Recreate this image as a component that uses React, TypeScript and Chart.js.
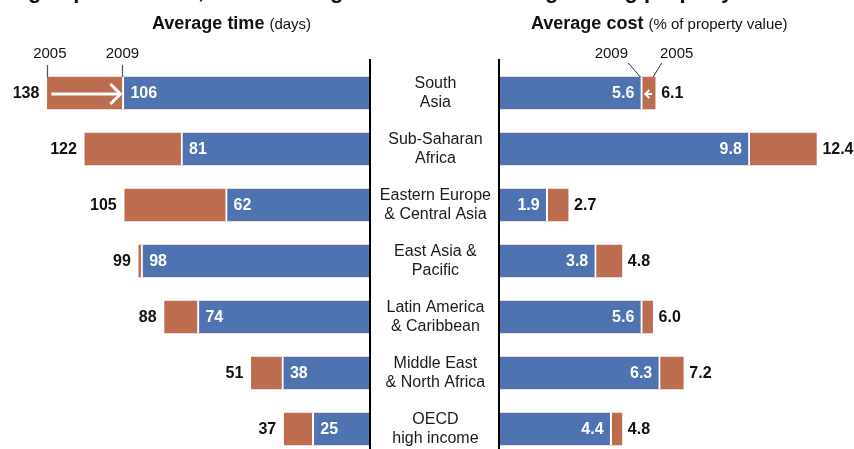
import React, { useEffect, useRef } from "react";
import { Chart, registerables } from "chart.js";

Chart.register(...registerables);

// ---- data ----
const regions: string[][] = [
  ["South", "Asia"],
  ["Sub-Saharan", "Africa"],
  ["Eastern Europe", "& Central Asia"],
  ["East Asia &", "Pacific"],
  ["Latin America", "& Caribbean"],
  ["Middle East", "& North Africa"],
  ["OECD", "high income"],
];
const years = ["2005", "2009"];
const time2005 = [138, 122, 105, 99, 88, 51, 37];
const time2009 = [106, 81, 62, 98, 74, 38, 25];
const cost2005 = [6.1, 12.4, 2.7, 4.8, 6.0, 7.2, 4.8];
const cost2009 = [5.6, 9.8, 1.9, 3.8, 5.6, 6.3, 4.4];
const titleText = "Big improvements, but reducing time and cost of registering property remains uneven";
const timeTitle = ["Average time", "(days)"];
const costTitle = ["Average cost", "(% of property value)"];

// ---- style ----
const FONT = '"Liberation Sans", Arial, sans-serif';
const BLUE = "#4F73B1";
const ORANGE = "#BC6D4F";
const INK = "#111111";

function drawArrow(ctx: CanvasRenderingContext2D, x1: number, y: number, x2: number, head: number, lw: number) {
  const dir = Math.sign(x2 - x1);
  ctx.save();
  ctx.strokeStyle = "#ffffff";
  ctx.lineWidth = lw;
  ctx.lineCap = "butt";
  ctx.lineJoin = "miter";
  ctx.beginPath();
  ctx.moveTo(x1, y);
  ctx.lineTo(x2 - dir * 1, y);
  ctx.stroke();
  ctx.beginPath();
  ctx.moveTo(x2 - dir * head, y - head);
  ctx.lineTo(x2, y);
  ctx.lineTo(x2 - dir * head, y + head);
  ctx.stroke();
  ctx.restore();
}

function drawTitleGroup(ctx: CanvasRenderingContext2D, x: number, y: number, parts: string[]) {
  ctx.save();
  ctx.fillStyle = INK;
  ctx.textBaseline = "alphabetic";
  ctx.textAlign = "left";
  ctx.font = `bold 18px ${FONT}`;
  ctx.fillText(parts[0], x, y);
  const w = ctx.measureText(parts[0] + " ").width;
  ctx.font = `15px ${FONT}`;
  ctx.fillText(parts[1], x + w, y);
  ctx.restore();
}

const leftDecor = {
  id: "leftDecor",
  afterDatasetsDraw(chart: any) {
    const ctx: CanvasRenderingContext2D = chart.ctx;
    const blue = chart.getDatasetMeta(0).data;
    const orange = chart.getDatasetMeta(1).data;
    const area = chart.chartArea;
    ctx.save();
    // axis line
    ctx.fillStyle = "#000";
    ctx.fillRect(area.right - 2, 59, 2, chart.height - 59);
    // value labels
    ctx.textBaseline = "middle";
    ctx.font = `bold 16px ${FONT}`;
    for (let i = 0; i < regions.length; i++) {
      const o = orange[i];
      const b = blue[i];
      ctx.fillStyle = INK;
      ctx.textAlign = "right";
      ctx.fillText(String(time2005[i]), o.x - 8, o.y + 1);
      ctx.fillStyle = "#ffffff";
      ctx.textAlign = "left";
      ctx.fillText(String(time2009[i]), b.x + 8, b.y + 1);
    }
    // arrow for first row
    const o0 = orange[0];
    const b0 = blue[0];
    drawArrow(ctx, o0.x + 4, o0.y + 1, b0.x - 2, 10, 3);
    // year annotations
    const top = o0.y - o0.height / 2;
    ctx.strokeStyle = "#555";
    ctx.lineWidth = 1.2;
    ctx.beginPath();
    ctx.moveTo(Math.round(o0.x) + 0.5, 65);
    ctx.lineTo(Math.round(o0.x) + 0.5, top);
    ctx.moveTo(Math.round(b0.x) + 0.5, 65);
    ctx.lineTo(Math.round(b0.x) + 0.5, top);
    ctx.stroke();
    ctx.fillStyle = INK;
    ctx.font = `15px ${FONT}`;
    ctx.textAlign = "center";
    ctx.textBaseline = "alphabetic";
    ctx.fillText(years[0], o0.x + 2.5, 58);
    ctx.fillText(years[1], b0.x, 58);
    ctx.restore();
    drawTitleGroup(ctx, 152, 29, timeTitle);
  },
};

const rightDecor = {
  id: "rightDecor",
  afterDatasetsDraw(chart: any) {
    const ctx: CanvasRenderingContext2D = chart.ctx;
    const blue = chart.getDatasetMeta(0).data;
    const orange = chart.getDatasetMeta(1).data;
    const area = chart.chartArea;
    ctx.save();
    ctx.fillStyle = "#000";
    ctx.fillRect(area.left - 1, 59, 2, chart.height - 59);
    ctx.textBaseline = "middle";
    ctx.font = `bold 16px ${FONT}`;
    for (let i = 0; i < regions.length; i++) {
      const o = orange[i];
      const b = blue[i];
      ctx.fillStyle = "#ffffff";
      ctx.textAlign = "right";
      ctx.fillText(cost2009[i].toFixed(1), b.x - 8, b.y + 1);
      ctx.fillStyle = INK;
      ctx.textAlign = "left";
      ctx.fillText(cost2005[i].toFixed(1), o.x + 6, o.y + 1);
    }
    const o0 = orange[0];
    const b0 = blue[0];
    drawArrow(ctx, o0.x - 3, o0.y + 1, b0.x + 3, 4, 2);
    const top = o0.y - o0.height / 2;
    ctx.strokeStyle = "#333";
    ctx.lineWidth = 1;
    ctx.beginPath();
    const bEnd = b0.x - 2;
    ctx.moveTo(bEnd, top);
    ctx.lineTo(bEnd - 12, top - 14);
    const oEnd = o0.x - 2;
    ctx.moveTo(oEnd, top);
    ctx.lineTo(oEnd + 8.5, top - 14);
    ctx.stroke();
    ctx.fillStyle = INK;
    ctx.font = `15px ${FONT}`;
    ctx.textAlign = "center";
    ctx.textBaseline = "alphabetic";
    ctx.fillText(years[1], bEnd - 12 - 17, 58);
    ctx.fillText(years[0], oEnd + 8.5 + 15, 58);
    ctx.restore();
    drawTitleGroup(ctx, 160, 29, costTitle);
  },
};

const blueBar = {
  backgroundColor: BLUE,
  borderColor: "#ffffff",
  borderWidth: { left: 2, right: 2, top: 0, bottom: 0 },
  borderSkipped: "start",
  grouped: false,
  barThickness: 32,
};
const orangeBar = {
  backgroundColor: ORANGE,
  borderWidth: 0,
  grouped: false,
  barThickness: 32,
};

export default function App() {
  const leftRef = useRef<HTMLCanvasElement>(null);
  const rightRef = useRef<HTMLCanvasElement>(null);

  useEffect(() => {
    document.body.style.margin = "0";
    document.body.style.overflow = "hidden";
    document.documentElement.style.overflow = "hidden";

    const left = new Chart(leftRef.current!, {
      type: "bar",
      data: {
        labels: regions,
        datasets: [
          { label: years[1], data: time2009, ...blueBar } as any,
          { label: years[0], data: time2005, ...orangeBar } as any,
        ],
      },
      options: {
        indexAxis: "y",
        responsive: false,
        animation: false,
        layout: { padding: { top: 65, bottom: 40, left: 0, right: 0 } },
        plugins: { legend: { display: false }, tooltip: { enabled: false }, title: { display: false } },
        scales: {
          x: { display: false, reverse: true, min: 0, max: 158.2 },
          y: { display: false },
        },
      },
      plugins: [leftDecor],
    });

    const right = new Chart(rightRef.current!, {
      type: "bar",
      data: {
        labels: regions,
        datasets: [
          { label: years[1], data: cost2009, ...blueBar } as any,
          { label: years[0], data: cost2005, ...orangeBar } as any,
        ],
      },
      options: {
        indexAxis: "y",
        responsive: false,
        animation: false,
        layout: { padding: { top: 65, bottom: 40, left: 0, right: 0 } },
        plugins: { legend: { display: false }, tooltip: { enabled: false }, title: { display: false } },
        scales: {
          x: { display: false, min: 0, max: 13.87 },
          y: {
            position: "left",
            grid: { display: false, drawTicks: false },
            border: { display: false },
            ticks: {
              crossAlign: "center",
              padding: 8,
              color: "#1a1a1a",
              font: { family: FONT, size: 16, lineHeight: 1.19 },
            },
            afterFit: (s: any) => {
              s.width = 128;
            },
          },
        },
      },
      plugins: [rightDecor],
    });

    return () => {
      left.destroy();
      right.destroy();
    };
  }, []);

  return (
    <div style={{ position: "relative", width: 854, height: 449, overflow: "hidden", background: "#fff" }}>
      <canvas ref={leftRef} width={371} height={497} style={{ position: "absolute", left: 0, top: 0 }} />
      <canvas ref={rightRef} width={483} height={497} style={{ position: "absolute", left: 371, top: 0 }} />
      <div
        style={{
          position: "absolute",
          left: 6,
          top: -20,
          font: `bold 22px ${FONT}`,
          lineHeight: "22px",
          whiteSpace: "nowrap",
          color: INK,
        }}
      >
        {titleText}
      </div>
    </div>
  );
}
